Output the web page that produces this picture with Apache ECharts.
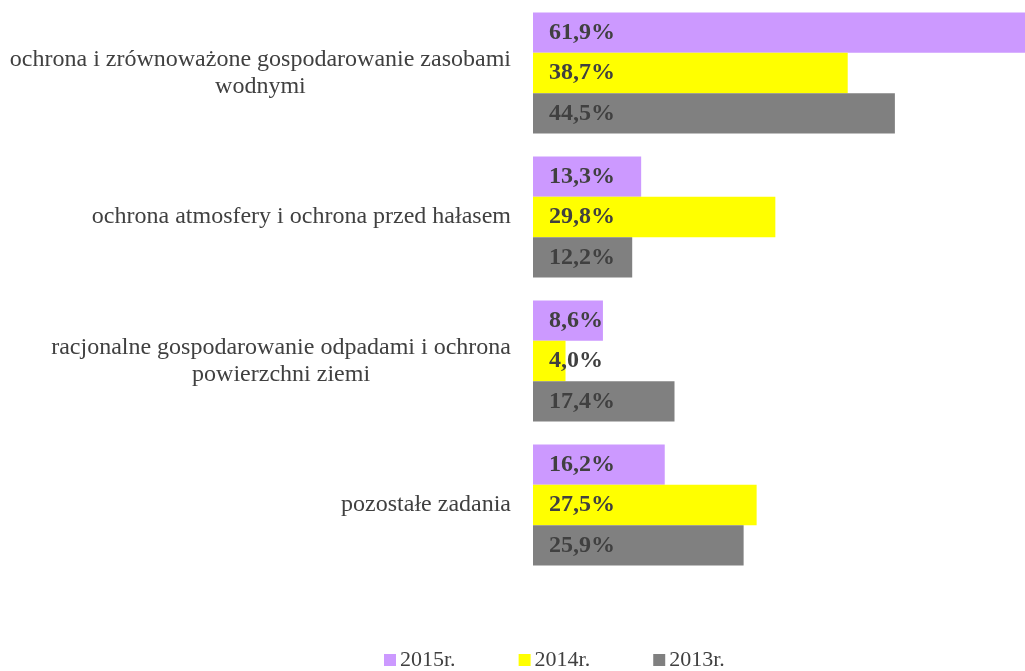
<!DOCTYPE html>
<html>
<head>
<meta charset="utf-8">
<script src="https://cdn.jsdelivr.net/npm/echarts@6/dist/echarts.min.js"></script>
<style>
  html, body { margin: 0; padding: 0; background: #fff; }
  #chart { width: 1025px; height: 671px; }
</style>
</head>
<body>
<div id="chart"></div>
<script>
const categories = [
  'ochrona i zrównoważone gospodarowanie zasobami\nwodnymi',
  'ochrona atmosfery i ochrona przed hałasem',
  'racjonalne gospodarowanie odpadami i ochrona\npowierzchni ziemi',
  'pozostałe zadania'
]
const seriesNames = ['2015r.', '2014r.', '2013r.']
const values2015 = [61.9, 13.3, 8.6, 16.2]
const values2014 = [38.7, 29.8, 4.0, 27.5]
const values2013 = [44.5, 12.2, 17.4, 25.9]
const colors = ['#cc99ff', '#ffff00', '#808080']

const font = '"Liberation Serif", "Times New Roman", serif'

function makeSeries(name, data, i) {
  return {
    name: name,
    type: 'bar',
    data: data,
    barGap: '0%',
    barCategoryGap: '16%',
    clip: true,
    itemStyle: {
      color: colors[i]
    },
    label: {
      show: true,
      position: 'insideLeft',
      offset: [11, 0],
      fontFamily: font,
      fontSize: 24,
      fontWeight: 'bold',
      color: '#404040',
      formatter: p => p.value.toFixed(1).replace('.', ',') + '%'
    }
  }
}

const chart = echarts.init(document.getElementById('chart'))
chart.setOption({
  animation: false,
  grid: {
    left: 533,
    top: 1,
    height: 576,
    right: 0
  },
  legend: {
    data: seriesNames,
    left: 379,
    top: 644,
    icon: 'rect',
    itemWidth: 12,
    itemHeight: 12,
    itemGap: 63,
    textStyle: {
      fontFamily: font,
      fontSize: 22,
      color: '#404040',
      padding: [0, 0, 0, -1]
    }
  },
  xAxis: {
    type: 'value',
    min: 0,
    max: 60.5,
    show: false
  },
  yAxis: {
    type: 'category',
    data: categories,
    inverse: true,
    axisLine: { show: false },
    axisTick: { show: false },
    axisLabel: {
      margin: 22,
      fontFamily: font,
      fontSize: 24,
      color: '#404040',
      lineHeight: 27,
      formatter: v => '{c|' + v.split('\n').join('}\n{c|') + '}',
      rich: {
        c: {
          align: 'center',
          fontFamily: font,
          fontSize: 24,
          color: '#404040',
          lineHeight: 27
        }
      }
    }
  },
  series: [
    makeSeries(seriesNames[0], values2015, 0),
    makeSeries(seriesNames[1], values2014, 1),
    makeSeries(seriesNames[2], values2013, 2)
  ]
})
</script>
</body>
</html>
